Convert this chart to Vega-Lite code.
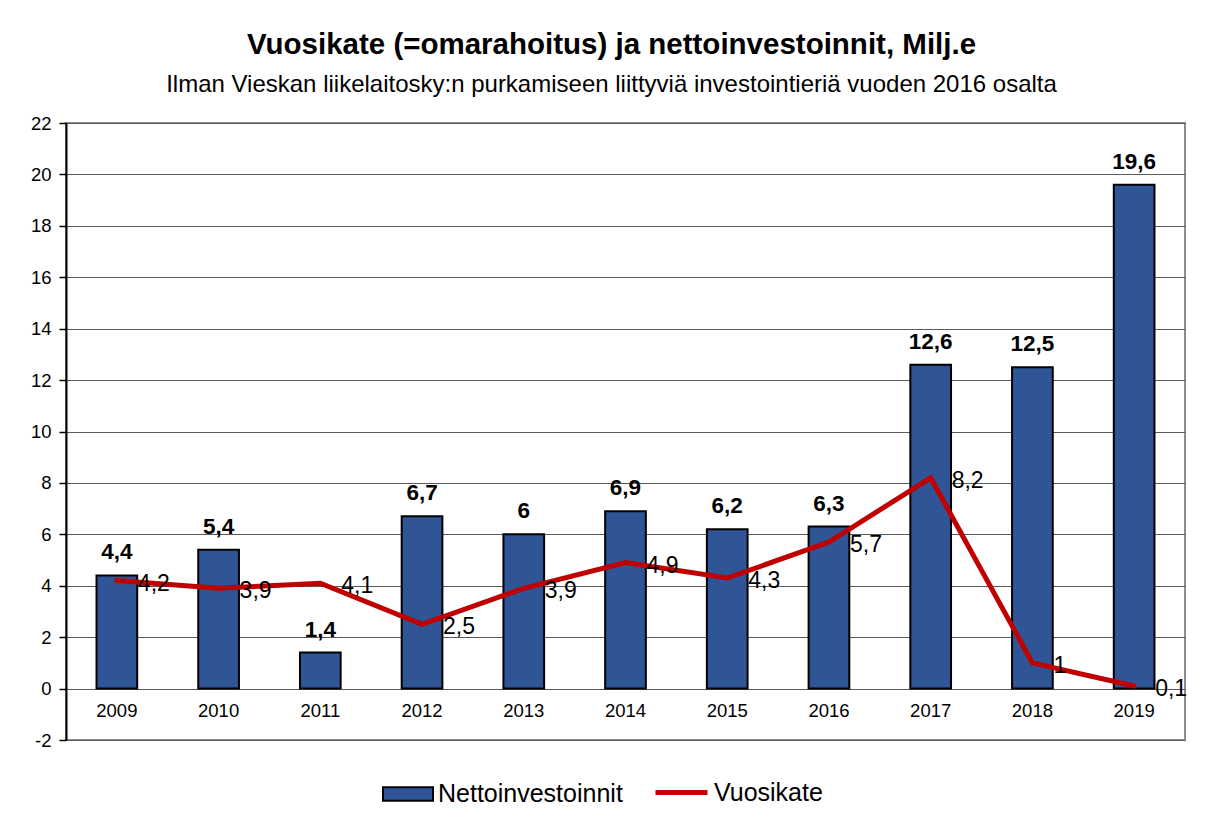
{
  "$schema": "https://vega.github.io/schema/vega-lite/v6.json",
  "autosize": "none",
  "width": 1119,
  "height": 617,
  "padding": {"left": 66, "top": 123, "right": 36, "bottom": 86},
  "background": "white",
  "config": {
    "locale": {"number": {"decimal": ",", "thousands": "\u00a0", "grouping": [3], "currency": ["", " €"], "minus": "-"}},
    "font": "Liberation Sans",
    "view": {"stroke": "#8c8c8c", "strokeWidth": 2}
  },
  "title": {
    "text": "Vuosikate (=omarahoitus) ja nettoinvestoinnit, Milj.e",
    "subtitle": "Ilman Vieskan liikelaitosky:n purkamiseen liittyviä investointieriä vuoden 2016 osalta",
    "font": "Liberation Sans",
    "subtitleFont": "Liberation Sans",
    "fontSize": 29.5,
    "fontWeight": "bold",
    "subtitleFontSize": 24,
    "color": "black",
    "subtitleColor": "black",
    "anchor": "middle",
    "dx": -14,
    "offset": 16,
    "subtitlePadding": 13
  },
  "data": {
    "values": [
      {"year": "2009", "netto": 4.4, "vuosikate": 4.2},
      {"year": "2010", "netto": 5.4, "vuosikate": 3.9},
      {"year": "2011", "netto": 1.4, "vuosikate": 4.1},
      {"year": "2012", "netto": 6.7, "vuosikate": 2.5},
      {"year": "2013", "netto": 6, "vuosikate": 3.9},
      {"year": "2014", "netto": 6.9, "vuosikate": 4.9},
      {"year": "2015", "netto": 6.2, "vuosikate": 4.3},
      {"year": "2016", "netto": 6.3, "vuosikate": 5.7},
      {"year": "2017", "netto": 12.6, "vuosikate": 8.2},
      {"year": "2018", "netto": 12.5, "vuosikate": 1},
      {"year": "2019", "netto": 19.6, "vuosikate": 0.1}
    ]
  },
  "encoding": {
    "x": {
      "field": "year",
      "type": "ordinal",
      "scale": {"paddingInner": 0.6, "paddingOuter": 0.3},
      "axis": {
        "orient": "bottom",
        "offset": -51,
        "domain": false,
        "ticks": false,
        "grid": false,
        "labelAngle": 0,
        "labelFontSize": 18.5,
        "labelColor": "black",
        "labelPadding": 12,
        "title": null
      }
    }
  },
  "layer": [
    {
      "mark": {"type": "bar", "stroke": "black", "strokeWidth": 2},
      "encoding": {
        "y": {
          "field": "netto",
          "type": "quantitative",
          "scale": {"domain": [-2, 22], "nice": false},
          "title": null,
          "axis": {
            "values": [-2, 0, 2, 4, 6, 8, 10, 12, 14, 16, 18, 20, 22],
            "grid": true,
            "gridColor": "#5a5a5a",
            "gridWidth": 1,
            "domainColor": "black",
            "domainWidth": 2,
            "tickColor": "black",
            "tickSize": 7,
            "tickWidth": 1.5,
            "labelFontSize": 18.5,
            "labelColor": "black",
            "labelPadding": 8,
            "title": null
          }
        },
        "fill": {
          "datum": "Nettoinvestoinnit",
          "type": "nominal",
          "scale": {"domain": ["Nettoinvestoinnit"], "range": ["#2F5597"]},
          "legend": {
            "orient": "none",
            "legendX": 316,
            "legendY": 645,
            "direction": "horizontal",
            "title": null,
            "labelFontSize": 25,
            "labelColor": "black",
            "labelFont": "Liberation Sans",
            "labelLimit": 400,
            "labelOffset": 4,
            "symbolType": "M-1,-0.27H1V0.27H-1Z",
            "symbolSize": 2500,
            "symbolStrokeColor": "black",
            "symbolStrokeWidth": 2,
            "symbolOpacity": 1
          }
        }
      }
    },
    {
      "mark": {"type": "text", "fontSize": 22.5, "fontWeight": "bold", "baseline": "alphabetic", "dy": -16, "color": "black"},
      "encoding": {
        "y": {"field": "netto", "type": "quantitative", "title": null},
        "text": {"field": "netto", "type": "quantitative", "format": ".1~f"}
      }
    },
    {
      "mark": {"type": "line", "strokeWidth": 5, "strokeCap": "round", "strokeJoin": "miter"},
      "encoding": {
        "y": {"field": "vuosikate", "type": "quantitative", "title": null},
        "stroke": {
          "datum": "Vuosikate",
          "type": "nominal",
          "scale": {"domain": ["Vuosikate"], "range": ["#C00000"]},
          "legend": {
            "orient": "none",
            "legendX": 587,
            "legendY": 641,
            "direction": "horizontal",
            "title": null,
            "labelFontSize": 25,
            "labelColor": "black",
            "labelFont": "Liberation Sans",
            "labelLimit": 400,
            "labelOffset": 4,
            "symbolType": "stroke",
            "symbolSize": 2704,
            "symbolStrokeWidth": 5,
            "symbolOpacity": 1
          }
        }
      }
    },
    {
      "mark": {"type": "text", "fontSize": 23, "align": "left", "baseline": "middle", "dx": 21, "dy": 3, "color": "black"},
      "encoding": {
        "y": {"field": "vuosikate", "type": "quantitative", "title": null},
        "text": {"field": "vuosikate", "type": "quantitative", "format": ".1~f"}
      }
    }
  ]
}
